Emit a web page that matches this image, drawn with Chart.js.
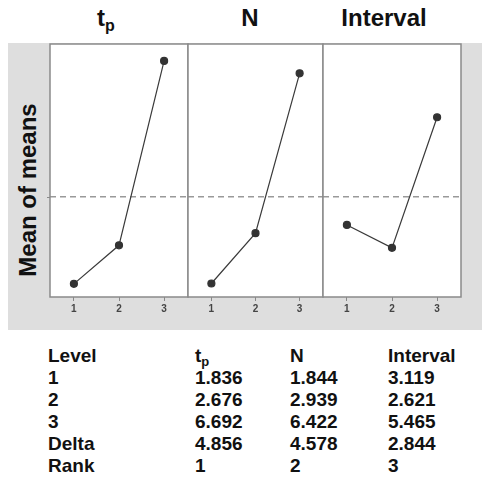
<!DOCTYPE html>
<html>
<head>
<meta charset="utf-8">
<script src="https://cdn.jsdelivr.net/npm/chart.js@4/dist/chart.umd.min.js"></script>
<style>
  html, body { margin: 0; padding: 0; background: #fff; }
  body { width: 482px; height: 486px; position: relative; overflow: hidden;
         font-family: "Liberation Sans", Arial, sans-serif; color: #111; }
  #bg { position: absolute; left: 8px; top: 43px; width: 474px; height: 287px; background: #dedede; }
  canvas { position: absolute; }
  .title { position: absolute; top: 4px; font-weight: bold; font-size: 24px; text-align: center; width: 140px; }
  .title sub { font-size: 16px; vertical-align: -5px; }
  #ylab { position: absolute; left: 28px; top: 190px; transform: translate(-50%, -50%) rotate(-90deg);
          font-weight: bold; font-size: 24px; white-space: nowrap; }
  #tbl { position: absolute; left: 0; top: 0; font-weight: bold; font-size: 19px; }
  .cell { position: absolute; white-space: nowrap; }
  .cell sub { font-size: 13px; vertical-align: -4px; }
</style>
</head>
<body>
<div id="bg"></div>
<div id="ylab">Mean of means</div>
<canvas id="c0"></canvas>
<canvas id="c1"></canvas>
<canvas id="c2"></canvas>
<div class="title" style="left:36px">t<sub>p</sub></div>
<div class="title" style="left:180px">N</div>
<div class="title" style="left:314px">Interval</div>
<div id="tbl"></div>
<script>
const levels = [1, 2, 3];
const factors = ["tp", "N", "Interval"];
const tpMeans = [1.836, 2.676, 6.692];
const nMeans = [1.844, 2.939, 6.422];
const intervalMeans = [3.119, 2.621, 5.465];
const deltas = [4.856, 4.578, 2.844];
const ranks = [1, 2, 3];
const xTickLabels = ["1", "2", "3"];

const series = [tpMeans, nMeans, intervalMeans];
const all = series.flat();
const grandMean = all.reduce((a, b) => a + b, 0) / all.length;

const panelEdges = [50, 188, 323, 461];
const plotTop = 44, plotHeight = 253, axisH = 22;

const framePlugin = {
  id: 'frame',
  beforeDatasetsDraw(chart) {
    const { ctx, chartArea: a, scales } = chart;
    ctx.save();
    ctx.fillStyle = '#ffffff';
    ctx.fillRect(a.left, a.top, a.right - a.left, a.bottom - a.top);
    const y = scales.y.getPixelForValue(grandMean);
    ctx.strokeStyle = '#999999';
    ctx.lineWidth = 1.6;
    ctx.setLineDash([6, 4]);
    ctx.beginPath();
    ctx.moveTo(a.left, y);
    ctx.lineTo(a.right, y);
    ctx.stroke();
    ctx.setLineDash([]);
    ctx.strokeStyle = '#8a8a8a';
    ctx.lineWidth = 1.5;
    ctx.strokeRect(a.left, a.top, a.right - a.left, a.bottom - a.top);
    if (chart.canvas.id === 'c0') {
      ctx.lineWidth = 1;
      ctx.beginPath();
      ctx.moveTo(a.left - 3, Math.round(y) + 0.5);
      ctx.lineTo(a.left, Math.round(y) + 0.5);
      ctx.stroke();
    }
    ctx.restore();
  }
};

series.forEach((vals, i) => {
  const cv = document.getElementById('c' + i);
  const padL = i === 0 ? 4 : 1;
  const left = panelEdges[i] - padL;
  const w = panelEdges[i + 1] - panelEdges[i] + padL + 1;
  const h = 1 + plotHeight + axisH;
  cv.width = w; cv.height = h;
  cv.style.left = left + 'px';
  cv.style.top = (plotTop - 1) + 'px';
  cv.style.width = w + 'px';
  cv.style.height = h + 'px';
  new Chart(cv, {
    type: 'line',
    data: {
      datasets: [{
        label: factors[i],
        data: levels.map((lv, k) => ({ x: lv, y: vals[k] })),
        borderColor: '#3a3a3a',
        borderWidth: 1.2,
        pointRadius: 3.5,
        pointBackgroundColor: '#333',
        pointBorderColor: '#333',
        tension: 0
      }]
    },
    options: {
      responsive: false,
      animation: false,
      devicePixelRatio: 1,
      layout: { autoPadding: false, padding: { top: 1, left: padL, right: 1, bottom: 0 } },
      plugins: { legend: { display: false }, tooltip: { enabled: false } },
      scales: {
        x: {
          type: 'linear',
          min: 0.47, max: 3.53,
          afterBuildTicks: s => { s.ticks = levels.map(v => ({ value: v })); },
          afterFit: s => { s.height = axisH; s.paddingLeft = 0; s.paddingRight = 0; },
          grid: { drawOnChartArea: false, drawTicks: true, tickLength: 4, color: '#888' },
          border: { display: false },
          ticks: {
            padding: 2,
            color: '#444',
            font: { family: 'Liberation Sans', size: 10, weight: 'bold' },
            callback: (v) => xTickLabels[levels.indexOf(v)] ?? ''
          }
        },
        y: {
          display: false,
          min: 1.55, max: 7.06
        }
      }
    },
    plugins: [framePlugin]
  });
});

// Response table
const tbl = document.getElementById('tbl');
const colX = [48, 195, 290, 388];
const rowY = [363, 385, 407, 429, 451, 473];
const header = ['Level', 't<sub>p</sub>', 'N', 'Interval'];
const rowLabels = ['1', '2', '3', 'Delta', 'Rank'];
function addCell(html, x, baseline) {
  const d = document.createElement('div');
  d.className = 'cell';
  d.innerHTML = html;
  d.style.left = x + 'px';
  d.style.top = (baseline - 18) + 'px';
  tbl.appendChild(d);
}
header.forEach((hTxt, c) => addCell(hTxt, colX[c], rowY[0]));
rowLabels.forEach((lab, r) => {
  addCell(lab, colX[0], rowY[r + 1]);
  for (let c = 0; c < 3; c++) {
    let v;
    if (r < 3) v = series[c][r].toFixed(3);
    else if (r === 3) v = deltas[c].toFixed(3);
    else v = String(ranks[c]);
    addCell(v, colX[c + 1], rowY[r + 1]);
  }
});
</script>
</body>
</html>
